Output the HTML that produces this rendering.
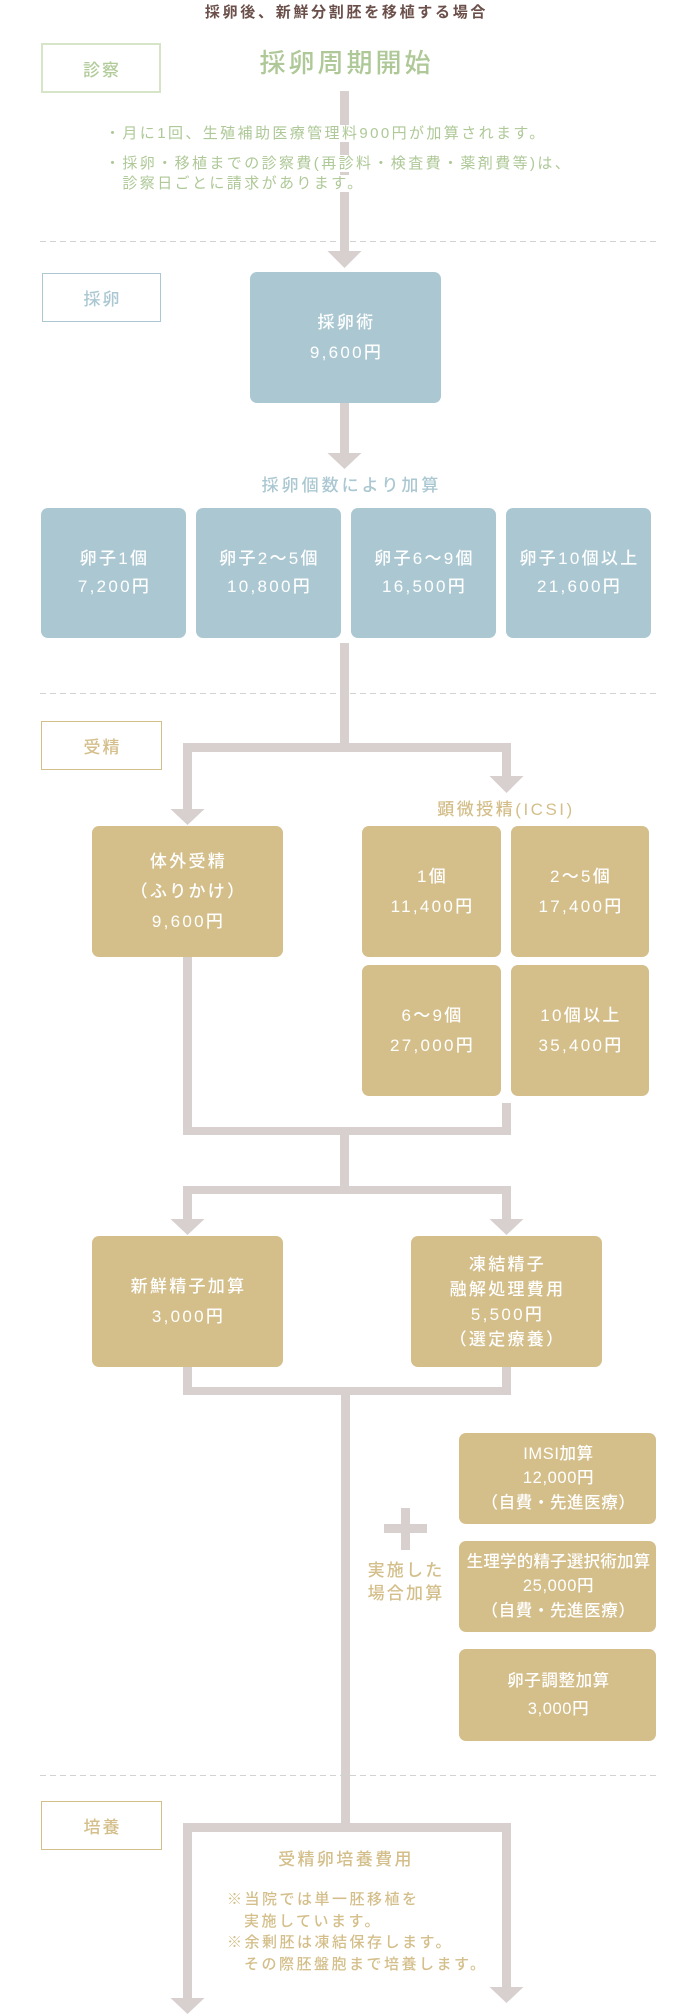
<!DOCTYPE html>
<html><head><meta charset="utf-8">
<style>
*{margin:0;padding:0;box-sizing:border-box}
html,body{width:690px;height:2014px;background:#fff;overflow:hidden}
body{position:relative;font-family:"Liberation Sans","Noto Sans CJK JP",sans-serif}
.a{position:absolute}
.t{position:absolute;white-space:nowrap;text-align:center}
.lab{position:absolute;display:flex;align-items:center;justify-content:center;font-size:17px;letter-spacing:2px;padding-left:2px;font-weight:500}
.bx{position:absolute;display:flex;flex-direction:column;align-items:center;justify-content:center;color:#fff;font-size:17px;letter-spacing:2.3px;padding-left:2px;text-align:center;border-radius:7px;white-space:nowrap;font-weight:500}
.blue{background:#abc8d2}
.tan{background:#d4bf8b}
.wb{display:inline-block;height:17px;line-height:17px;background:#fff}
.g{color:#aec897}
.rb{font-size:16.5px;letter-spacing:0.6px}
</style></head><body>

<svg class="a" style="left:0;top:0" width="690" height="2014" xmlns="http://www.w3.org/2000/svg">
<g fill="#d8cfcf">
<rect x="340" y="91" width="9" height="162"/>
<polygon points="327.5,251 361.5,251 344.5,268"/>
<rect x="340" y="403" width="9" height="52"/>
<polygon points="327.5,453 361.5,453 344.5,469"/>
<rect x="340" y="643" width="9" height="109"/>
<rect x="183" y="743" width="328" height="9"/>
<rect x="183" y="743" width="9" height="68"/>
<polygon points="170.5,809 204.5,809 187.5,825"/>
<rect x="502" y="743" width="9" height="35"/>
<polygon points="489.5,776 523.5,776 506.5,793"/>
<rect x="183" y="957" width="9" height="178"/>
<rect x="502" y="1103" width="9" height="32"/>
<rect x="183" y="1127" width="328" height="8"/>
<rect x="340" y="1127" width="9" height="67"/>
<rect x="183" y="1186" width="328" height="8"/>
<rect x="183" y="1186" width="9" height="35"/>
<polygon points="170.5,1219 204.5,1219 187.5,1235"/>
<rect x="502" y="1186" width="9" height="35"/>
<polygon points="489.5,1219 523.5,1219 506.5,1235"/>
<rect x="183" y="1367" width="9" height="28"/>
<rect x="502" y="1367" width="9" height="28"/>
<rect x="183" y="1387" width="328" height="8"/>
<rect x="341" y="1387" width="9" height="445"/>
<rect x="183" y="1823" width="328" height="9"/>
<rect x="183" y="1823" width="9" height="177"/>
<polygon points="170.5,1998 204.5,1998 187.5,2014"/>
<rect x="502" y="1823" width="9" height="166"/>
<polygon points="489.5,1987 523.5,1987 506.5,2003"/>
<rect x="384" y="1524" width="43" height="9"/>
<rect x="401" y="1508" width="9" height="42"/>
</g>
<g stroke="#d2d2d2" stroke-width="1" stroke-dasharray="6 4">
<line x1="40" y1="241.5" x2="657" y2="241.5"/>
<line x1="40" y1="693.5" x2="657" y2="693.5"/>
<line x1="40" y1="1775.5" x2="657" y2="1775.5"/>
</g>
</svg>

<!-- title -->
<div class="t" style="left:0;top:3px;width:690px;line-height:20px;font-size:15px;font-weight:bold;letter-spacing:2.7px;padding-left:3px;color:#6b4f4a">採卵後、新鮮分割胚を移植する場合</div>

<!-- 診察 section -->
<div class="lab" style="left:41px;top:43px;width:120px;height:50px;border:2px solid #d6e4c8;color:#b0ca98">診察</div>
<div class="t g" style="left:145px;top:45px;width:400px;line-height:36px;font-size:26px;letter-spacing:3px;padding-left:3px;font-weight:500">採卵周期開始</div>

<div class="t g" style="left:105px;top:124.5px;font-size:15px;letter-spacing:2.4px;text-align:left"><span class="wb">・月に1回、生殖補助医療管理料900円が加算されます。</span></div>
<div class="t g" style="left:105px;top:154.5px;font-size:15px;letter-spacing:2.4px;text-align:left"><span class="wb">・採卵・移植までの診察費(再診料・検査費・薬剤費等)は、</span></div>
<div class="t g" style="left:122.4px;top:174.5px;font-size:15px;letter-spacing:2.4px;text-align:left"><span class="wb">診察日ごとに請求があります。</span></div>

<!-- 採卵 section -->
<div class="lab" style="left:42px;top:273px;width:119px;height:49px;border:1px solid #abc8d2;color:#abc8d2">採卵</div>
<div class="bx blue" style="left:250px;top:272px;width:191px;height:131px;line-height:30px"><div>採卵術</div><div>9,600円</div></div>

<div class="t" style="left:150px;top:474px;width:400px;line-height:24px;font-size:17px;letter-spacing:3px;padding-left:3px;color:#abc8d2;font-weight:500">採卵個数により加算</div>

<div class="bx blue" style="left:41px;top:508px;width:145px;height:130px;line-height:28px"><div>卵子1個</div><div>7,200円</div></div>
<div class="bx blue" style="left:196px;top:508px;width:145px;height:130px;line-height:28px"><div>卵子2～5個</div><div>10,800円</div></div>
<div class="bx blue" style="left:351px;top:508px;width:145px;height:130px;line-height:28px"><div>卵子6～9個</div><div>16,500円</div></div>
<div class="bx blue" style="left:506px;top:508px;width:145px;height:130px;line-height:28px"><div>卵子10個以上</div><div>21,600円</div></div>

<!-- 受精 section -->
<div class="lab" style="left:41px;top:721px;width:121px;height:49px;border:1px solid #d4bf8b;color:#d4bf8b">受精</div>

<div class="t" style="left:405px;top:798px;width:200px;line-height:24px;font-size:17px;letter-spacing:2.5px;padding-left:2px;color:#d4bf8b;font-weight:500">顕微授精(ICSI)</div>

<div class="bx tan" style="left:92px;top:826px;width:191px;height:131px;line-height:30px"><div>体外受精</div><div>（ふりかけ）</div><div>9,600円</div></div>

<div class="bx tan" style="left:362px;top:826px;width:139px;height:131px;line-height:30px"><div>1個</div><div>11,400円</div></div>
<div class="bx tan" style="left:511px;top:826px;width:138px;height:131px;line-height:30px"><div>2～5個</div><div>17,400円</div></div>
<div class="bx tan" style="left:362px;top:965px;width:139px;height:131px;line-height:30px"><div>6～9個</div><div>27,000円</div></div>
<div class="bx tan" style="left:511px;top:965px;width:138px;height:131px;line-height:30px"><div>10個以上</div><div>35,400円</div></div>

<div class="bx tan" style="left:92px;top:1236px;width:191px;height:131px;line-height:30px"><div>新鮮精子加算</div><div>3,000円</div></div>
<div class="bx tan" style="left:411px;top:1236px;width:191px;height:131px;line-height:25px"><div>凍結精子</div><div>融解処理費用</div><div>5,500円</div><div>（選定療養）</div></div>

<div class="bx tan rb" style="left:459px;top:1433px;width:197px;height:91px;line-height:24.5px"><div>IMSI加算</div><div>12,000円</div><div>（自費・先進医療）</div></div>
<div class="bx tan rb" style="left:459px;top:1541px;width:197px;height:91px;line-height:24.5px"><div style="letter-spacing:0.2px">生理学的精子選択術加算</div><div>25,000円</div><div>（自費・先進医療）</div></div>
<div class="bx tan rb" style="left:459px;top:1649px;width:197px;height:92px;line-height:28px"><div>卵子調整加算</div><div>3,000円</div></div>

<div class="t" style="left:355px;top:1558.5px;width:100px;line-height:23px;font-size:17px;letter-spacing:2.2px;padding-left:2px;color:#d4bf8b;font-weight:500">実施した<br>場合加算</div>

<!-- 培養 section -->
<div class="lab" style="left:41px;top:1801px;width:121px;height:49px;border:1px solid #d4bf8b;color:#d4bf8b">培養</div>

<div class="t" style="left:145px;top:1848px;width:400px;line-height:24px;font-size:17px;letter-spacing:2.4px;padding-left:2px;color:#d4bf8b;font-weight:500">受精卵培養費用</div>

<div class="t" style="left:227px;top:1889px;line-height:21.7px;font-size:15px;letter-spacing:2.5px;text-align:left;color:#d4bf8b;font-weight:500">※当院では単一胚移植を<br><span style="padding-left:17px">実施しています。</span><br>※余剰胚は凍結保存します。<br><span style="padding-left:17px">その際胚盤胞まで培養します。</span></div>

</body></html>
